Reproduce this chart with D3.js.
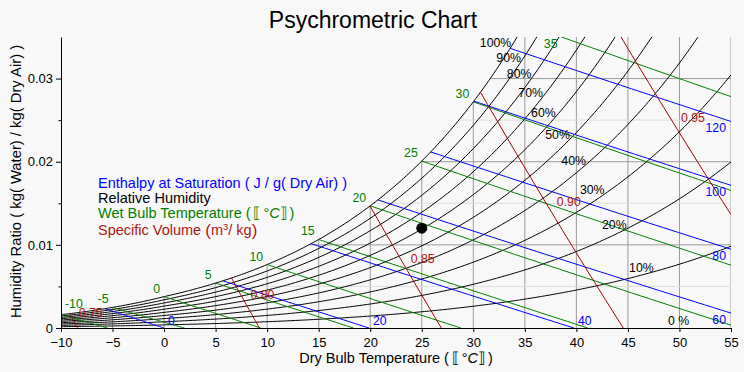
<!DOCTYPE html>
<html>
<head>
<meta charset="utf-8">
<script src="https://cdn.jsdelivr.net/npm/d3@7"></script>
<style>
body { margin: 0; background: #f8f8f8; }
svg { display: block; font-family: "Liberation Sans", Arial, sans-serif; }
</style>
</head>
<body>
<script>
// CHART DATA
const rhLevels = [10, 20, 30, 40, 50, 60, 70, 80, 90, 100];
const rhLabelLevels = [0, 10, 20, 30, 40, 50, 60, 70, 80, 90, 100];
const wetBulbTemps = [-10, -5, 0, 5, 10, 15, 20, 25, 30, 35];
const enthalpyLevels = [0, 20, 40, 60, 80, 100, 120];
const volumeLevels = [0.75, 0.80, 0.85, 0.90, 0.95];
const xTicks = [-10, -5, 0, 5, 10, 15, 20, 25, 30, 35, 40, 45, 50, 55];
const yMajorTicks = [0, 0.01, 0.02, 0.03];
const yMinorTicks = [0.005, 0.015, 0.025];
const statePoint = {t: 25, w: 0.012};
const pressure = 101.325; // kPa
const tempDomain = [-10, 55];
const wDomain = [0, 0.035];

// COLOURS
const BLUE = "#0000ff", GREEN = "#008000", RED = "#a00000", RED_TEXT = "#b01515";

// PSYCHROMETRIC RELATIONS (ASHRAE)
function pws(T) {
    const K = T + 273.15;
    let ln;
    if (T >= 0) {
        ln = -5.8002206e3 / K + 1.3914993 - 4.8640239e-2 * K + 4.1764768e-5 * K * K
            - 1.4452093e-8 * K * K * K + 6.5459673 * Math.log(K);
    } else {
        ln = -5.6745359e3 / K + 6.3925247 - 9.677843e-3 * K + 6.2215701e-7 * K * K
            + 2.0747825e-9 * K * K * K - 9.484024e-13 * K * K * K * K + 4.1635019 * Math.log(K);
    }
    return Math.exp(ln) / 1000;
}
function wRH(T, rh) {
    const p = rh / 100 * pws(T);
    return 0.621945 * p / (pressure - p);
}
const wSat = T => wRH(T, 100);
function wWetBulb(T, twb) {
    const ws = wSat(twb);
    if (twb >= 0) return ((2501 - 2.326 * twb) * ws - 1.006 * (T - twb)) / (2501 + 1.86 * T - 4.186 * twb);
    return ((2830 - 0.24 * twb) * ws - 1.006 * (T - twb)) / (2830 + 1.86 * T - 2.1 * twb);
}
const wEnthalpy = (T, h) => (h - 1.006 * T) / (2501 + 1.86 * T);
const wVolume = (T, v) => (v * pressure / (0.287042 * (T + 273.15)) - 1) / 1.607858;

function solve(f, a, b) {
    let fa = f(a);
    for (let i = 0; i < 80; i++) {
        const m = (a + b) / 2, fm = f(m);
        if ((fm > 0) === (fa > 0)) { a = m; fa = fm; } else { b = m; }
    }
    return (a + b) / 2;
}

// DIMENSIONS
const width = 744, height = 372;
const margin = {top: 37, right: 13, bottom: 44, left: 61};
const pLeft = margin.left, pRight = width - margin.right;
const pTop = margin.top, pBottom = height - margin.bottom;

const x = d3.scaleLinear().domain(tempDomain).range([pLeft, pRight]);
const y = d3.scaleLinear().domain(wDomain).range([pBottom, pTop]);

const svg = d3.select("body").append("svg")
    .attr("width", width)
    .attr("height", height);

svg.append("rect").attr("width", width).attr("height", height).attr("fill", "#f8f8f8");

svg.append("clipPath").attr("id", "plot")
    .append("rect")
    .attr("x", pLeft).attr("y", pTop)
    .attr("width", pRight - pLeft).attr("height", pBottom - pTop);

const plot = svg.append("g").attr("clip-path", "url(#plot)");
const line = d3.line().x(d => x(d[0])).y(d => y(d[1]));

// GRID (ONLY BELOW THE SATURATION CURVE)
xTicks.forEach(t => {
    const ws = wSat(t);
    plot.append("line")
        .attr("x1", x(t)).attr("x2", x(t))
        .attr("y1", ws > wDomain[1] ? pTop : y(ws)).attr("y2", pBottom)
        .attr("stroke", "#9a9a9a").attr("stroke-width", 1);
});
function hGrid(w, colour) {
    const ts = solve(T => wSat(T) - w, -40, 70);
    plot.append("line")
        .attr("x1", Math.max(pLeft, x(ts))).attr("x2", pRight)
        .attr("y1", y(w)).attr("y2", y(w))
        .attr("stroke", colour).attr("stroke-width", 1);
}
yMinorTicks.forEach(w => hGrid(w, "#dedede"));
yMajorTicks.filter(w => w > 0).forEach(w => hGrid(w, "#9a9a9a"));

// RELATIVE HUMIDITY CURVES
const temps = d3.range(tempDomain[0], tempDomain[1] + 0.001, 0.25);
rhLevels.forEach(rh => {
    plot.append("path")
        .datum(temps.map(t => [t, wRH(t, rh)]))
        .attr("d", line)
        .attr("fill", "none")
        .attr("stroke", "#000")
        .attr("stroke-width", 1);
});

// STRAIGHT-ISH FAMILIES: WET BULB, ENTHALPY, SPECIFIC VOLUME
function family(wAt, tSat) {
    const tZero = solve(wAt, tSat, 300);
    const tEnd = Math.min(tempDomain[1], tZero);
    const tTop = wAt(tSat) > wDomain[1] ? solve(T => wAt(T) - wDomain[1], tSat, tEnd) : tSat;
    const pts = d3.range(0, 41).map(i => {
        const t = tSat + (tEnd - tSat) * i / 40;
        return [t, wAt(t)];
    });
    return {pts, tSat, tTop, tEnd, wAt};
}

const wetBulbLines = wetBulbTemps.map(twb => ({value: twb, ...family(T => wWetBulb(T, twb), twb)}));
const enthalpyLines = enthalpyLevels.map(h => {
    const f = T => wEnthalpy(T, h);
    return {value: h, ...family(f, solve(T => f(T) - wSat(T), -40, 70))};
});
const volumeLines = volumeLevels.map(v => {
    const f = T => wVolume(T, v);
    return {value: v, ...family(f, solve(T => f(T) - wSat(T), -40, 70))};
});

[[wetBulbLines, GREEN], [enthalpyLines, BLUE], [volumeLines, RED]].forEach(([set, colour]) => {
    set.forEach(d => {
        plot.append("path")
            .datum(d.pts)
            .attr("d", line)
            .attr("fill", "none")
            .attr("stroke", colour)
            .attr("stroke-width", 1);
    });
});

// LABELS
const labels = svg.append("g").attr("font-size", 12.3);

// RH labels: right-aligned where each curve meets a guide line
rhLabelLevels.forEach(rh => {
    const guide = T => (50.95 - T) / 510;
    const t = rh === 0 ? 50.95 : solve(T => wRH(T, rh) - guide(T), -10, 55);
    const w = rh === 0 ? 0 : wRH(t, rh);
    labels.append("text")
        .attr("x", x(t))
        .attr("y", Math.min(y(w), pBottom - 3))
        .attr("text-anchor", "end")
        .attr("fill", "#000")
        .text(rh === 0 ? "0 %" : rh + "%");
});

// wet bulb labels at the start of each line
wetBulbLines.forEach(d => {
    const px = x(d.tTop), py = y(d.wAt(d.tTop));
    const txt = labels.append("text")
        .attr("fill", GREEN)
        .text(d.value);
    const len = txt.node().getComputedTextLength();
    let tx = px - 4 - len, ty = Math.max(py - 4, pTop + 11);
    if (tx < pLeft + 4) { tx = pLeft + 4; ty -= 3; }
    txt.attr("x", tx).attr("y", ty);
});

// enthalpy labels at the end of each line
enthalpyLines.forEach(d => {
    const px = x(d.tEnd), py = y(d.wAt(d.tEnd));
    const txt = labels.append("text")
        .attr("fill", BLUE)
        .attr("y", Math.min(py + 11, pBottom - 3))
        .text(d.value);
    const len = txt.node().getComputedTextLength();
    let tx = px + 4;
    if (tx + len > pRight - 5) tx = pRight - 5 - len;
    txt.attr("x", tx);
});

// specific volume labels at the middle of the visible segment
volumeLines.forEach(d => {
    const x1 = x(d.tTop), y1 = y(d.wAt(d.tTop));
    const x2 = x(d.tEnd), y2 = y(d.wAt(d.tEnd));
    labels.append("text")
        .attr("x", (x1 + x2) / 2 + 5)
        .attr("y", (y1 + y2) / 2 - 4)
        .attr("fill", RED_TEXT)
        .text(d3.format(".2f")(d.value));
});

// STATE POINT
svg.append("circle")
    .attr("cx", x(statePoint.t))
    .attr("cy", y(statePoint.w))
    .attr("r", 5.5)
    .attr("fill", "#000");

// AXES
const xAxis = svg.append("g")
    .attr("transform", `translate(0, ${pBottom})`)
    .call(d3.axisBottom(x).tickValues(xTicks).tickSize(4).tickSizeOuter(0).tickPadding(6));
xAxis.attr("font-family", null).attr("font-size", 13);
xAxis.selectAll("text").attr("fill", "#000");

const yAxis = svg.append("g")
    .attr("transform", `translate(${pLeft}, 0)`)
    .call(d3.axisLeft(y).tickValues(yMajorTicks).tickSize(5).tickSizeOuter(0).tickPadding(3)
        .tickFormat(d => d === 0 ? "0" : d3.format(".2f")(d)));
yAxis.attr("font-family", null).attr("font-size", 13);
yAxis.selectAll("text").attr("fill", "#000");

svg.append("g")
    .attr("transform", `translate(${pLeft}, 0)`)
    .call(d3.axisLeft(y).tickValues(yMinorTicks).tickSize(2.5).tickFormat(""))
    .call(g => g.select(".domain").remove());

// TITLE
svg.append("text")
    .attr("x", 373)
    .attr("y", 28)
    .attr("text-anchor", "middle")
    .attr("font-size", 23)
    .text("Psychrometric Chart");

// AXIS LABELS
function unitLabel(sel, prefix) {
    sel.append("tspan").text(prefix + " (\u2009\u27E6\u2009°");
    sel.append("tspan").attr("font-style", "italic").text("C");
    sel.append("tspan").text("\u27E7\u2009)");
}
svg.append("text")
    .attr("x", (pLeft + pRight) / 2)
    .attr("y", 363)
    .attr("text-anchor", "middle")
    .attr("font-size", 14.5)
    .call(unitLabel, "Dry Bulb Temperature");

svg.append("text")
    .attr("transform", `translate(21, ${(pTop + pBottom) / 2 - 1}) rotate(-90)`)
    .attr("text-anchor", "middle")
    .attr("font-size", 14.8)
    .text("Humidity Ratio ( kg( Water) / kg( Dry Air) )");

// LEGEND
const legend = svg.append("g").attr("font-size", 14.5);
legend.append("text").attr("x", 98).attr("y", 188).attr("fill", BLUE)
    .text("Enthalpy at Saturation ( J / g( Dry Air) )");
legend.append("text").attr("x", 98).attr("y", 203).attr("fill", "#000")
    .text("Relative Humidity");
legend.append("text").attr("x", 98).attr("y", 218).attr("fill", GREEN)
    .call(unitLabel, "Wet Bulb Temperature");
const sv = legend.append("text").attr("x", 98).attr("y", 235).attr("fill", RED_TEXT);
sv.append("tspan").text("Specific Volume ");
sv.append("tspan").attr("font-size", 17).attr("dy", 0.5).text("(");
sv.append("tspan").attr("dy", -0.5).text("m");
sv.append("tspan").attr("font-size", 9.5).attr("dy", -5.5).text("3");
sv.append("tspan").attr("dy", 5.5).text("/ kg");
sv.append("tspan").attr("font-size", 17).attr("dy", 0.5).text(")");
</script>
</body>
</html>
